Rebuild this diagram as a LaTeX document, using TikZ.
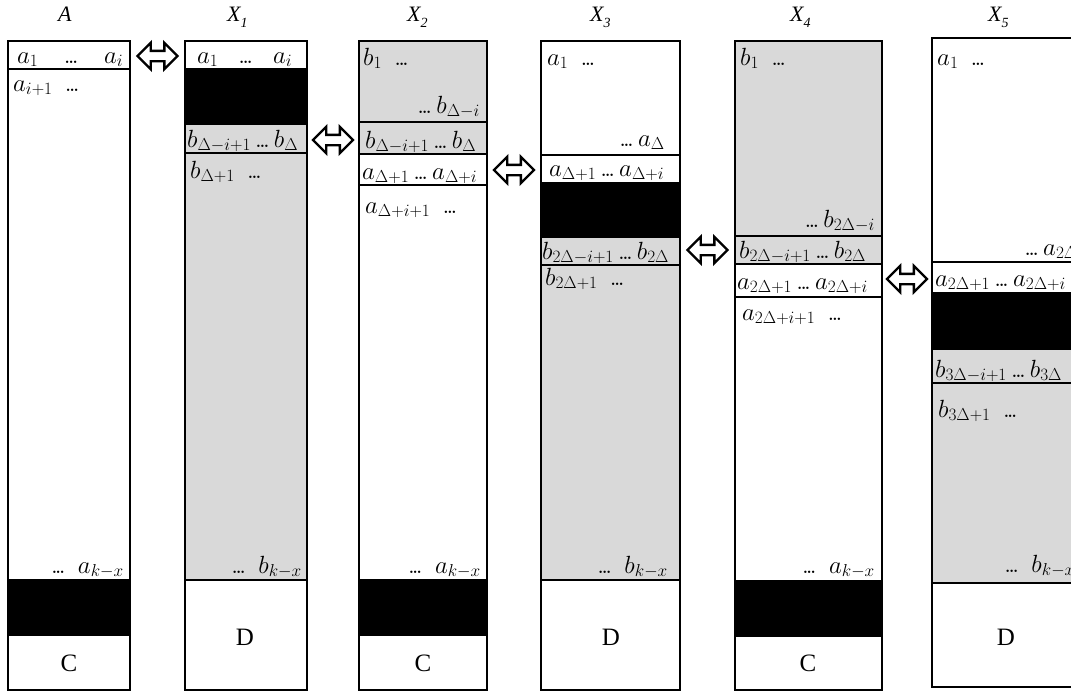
\documentclass[tikz,border=0pt]{standalone}
\usepackage{fontspec}
\newfontfamily\tnr{Liberation Serif}
\usetikzlibrary{shapes.arrows,calc}
\definecolor{cellgray}{RGB}{217,217,217}
\DeclareMathSizes{27}{27}{17.5}{12.5}
\newcommand{\hsub}[1]{\raisebox{-6pt}{\fontsize{14}{14}\selectfont #1}}
\newcommand{\dts}{\mathinner{\mathbf{.}\mkern-2mu\mathbf{.}\mkern-2mu\mathbf{.}}}
\tikzset{
  outer/.style={draw=black, line width=2.8pt},
  sepline/.style={draw=black, line width=2pt},
  grayreg/.style={fill=cellgray},
  blackreg/.style={fill=black},
  ml/.style={inner sep=0pt, anchor=base west, font=\fontsize{27}{32}\selectfont},
  mr/.style={inner sep=0pt, anchor=base east, font=\fontsize{27}{32}\selectfont},
  head/.style={inner sep=0pt, anchor=base west, font=\tnr\itshape\fontsize{22}{26}\selectfont},
  big/.style={inner sep=0pt, font=\tnr\fontsize{25}{30}\selectfont},
  xchg/.style={double arrow, draw=black, fill=white, line width=2.4pt, inner xsep=0pt, inner ysep=4pt, double arrow head extend=8pt, minimum height=40pt},
}
\begin{document}
\begin{tikzpicture}[x=1pt,y=-1pt]
\useasboundingbox (0,0) rectangle (1071,694);
\clip (0,0) rectangle (1071,694);
% headings
\node[head] (hA) at (58,21) {A};
\node[head] (h1) at (227,21) {X\hsub{1}};
\node[head] (h2) at (407,21) {X\hsub{2}};
\node[head] (h3) at (590,21) {X\hsub{3}};
\node[head] (h4) at (790,21) {X\hsub{4}};
\node[head] (h5) at (988,21) {X\hsub{5}};

% ---------- A ----------
\fill[white] (8,41) rectangle (130,690);
\fill[blackreg] (8,579) rectangle (130,636);
\draw[sepline] (8,69) -- (130,69);
\draw[outer] (8,41) rectangle (130,690);
\coordinate (A-r) at (130,56);
\node[ml] (tA1) at (17,63) {\makebox[106pt]{$a_1$\hfill$\dts$\hfill$a_i$}};
\node[ml] (tA2) at (13,91) {$a_{i+1}\ \dts$};
\node[mr] (tA3) at (124,573) {$\dts\ a_{k-x}$};
\node[big] (tA4) at (69,663) {C};

% ---------- X1 ----------
\fill[white] (185,41) rectangle (307,690);
\fill[blackreg] (185,69) rectangle (307,125);
\fill[grayreg] (185,125) rectangle (307,580);
\draw[sepline] (185,69) -- (307,69);
\draw[sepline] (185,153) -- (307,153);
\draw[sepline] (185,580) -- (307,580);
\draw[outer] (185,41) rectangle (307,690);
\coordinate (X1-l) at (185,56);
\coordinate (X1-r) at (307,140);
\node[ml] (t11) at (197,63) {\makebox[95pt]{$a_1$\hfill$\dts$\hfill$a_i$}};
\node[ml] (t12) at (187,147) {$b_{\Delta-i+1}\dts b_{\Delta}$};
\node[ml] (t13) at (190,178) {$b_{\Delta+1}\ \dts$};
\node[mr] (t14) at (302,573) {$\dts\ b_{k-x}$};
\node[big] (t15) at (245,637) {D};

% ---------- X2 ----------
\fill[white] (359,41) rectangle (487,690);
\fill[grayreg] (359,41) rectangle (487,154);
\fill[blackreg] (359,579) rectangle (487,636);
\draw[sepline] (359,122) -- (487,122);
\draw[sepline] (359,154) -- (487,154);
\draw[sepline] (359,185) -- (487,185);
\draw[outer] (359,41) rectangle (487,690);
\coordinate (X2-l) at (359,140);
\coordinate (X2-r) at (487,170);
\node[ml] (t21) at (363,65) {$b_1\ \dts$};
\node[mr] (t22) at (480,113) {$\dts b_{\Delta-i}$};
\node[ml] (t23) at (365,148) {$b_{\Delta-i+1}\dts b_{\Delta}$};
\node[ml] (t24) at (362,179) {$a_{\Delta+1}\dts a_{\Delta+i}$};
\node[ml] (t25) at (365,213) {$a_{\Delta+i+1}\ \dts$};
\node[mr] (t26) at (481,573) {$\dts\ a_{k-x}$};
\node[big] (t27) at (423,663) {C};

% ---------- X3 ----------
\fill[white] (541,41) rectangle (680,690);
\fill[blackreg] (541,182) rectangle (680,238);
\fill[grayreg] (541,238) rectangle (680,580);
\draw[sepline] (541,155) -- (680,155);
\draw[sepline] (541,265) -- (680,265);
\draw[sepline] (541,580) -- (680,580);
\draw[outer] (541,41) rectangle (680,690);
\coordinate (X3-l) at (541,170);
\coordinate (X3-r) at (680,250);
\node[ml] (t31) at (547,65) {$a_1\ \dts$};
\node[mr] (t32) at (665,146) {$\dts a_{\Delta}$};
\node[ml] (t33) at (549,176) {$a_{\Delta+1}\dts a_{\Delta+i}$};
\node[ml] (t34) at (542,259) {$b_{2\Delta-i+1}\dts b_{2\Delta}$};
\node[ml] (t35) at (545,285) {$b_{2\Delta+1}\ \dts$};
\node[mr] (t36) at (668,573) {$\dts\ b_{k-x}$};
\node[big] (t37) at (611,637) {D};

% ---------- X4 ----------
\fill[white] (735,41) rectangle (882,690);
\fill[grayreg] (735,41) rectangle (882,264);
\fill[blackreg] (735,580) rectangle (882,637);
\draw[sepline] (735,236) -- (882,236);
\draw[sepline] (735,264) -- (882,264);
\draw[sepline] (735,297) -- (882,297);
\draw[outer] (735,41) rectangle (882,690);
\coordinate (X4-l) at (735,250);
\coordinate (X4-r) at (882,279);
\node[ml] (t41) at (740,65) {$b_1\ \dts$};
\node[mr] (t42) at (875,227) {$\dts b_{2\Delta-i}$};
\node[ml] (t43) at (739,258) {$b_{2\Delta-i+1}\dts b_{2\Delta}$};
\node[ml] (t44) at (737,289) {$a_{2\Delta+1}\dts a_{2\Delta+i}$};
\node[ml] (t45) at (742,320) {$a_{2\Delta+i+1}\ \dts$};
\node[mr] (t46) at (875,573) {$\dts\ a_{k-x}$};
\node[big] (t47) at (808,663) {C};

% ---------- X5 ----------
\fill[white] (932,38) rectangle (1082,687);
\fill[blackreg] (932,292) rectangle (1082,350);
\fill[grayreg] (932,350) rectangle (1082,583);
\draw[sepline] (932,262) -- (1082,262);
\draw[sepline] (932,383) -- (1082,383);
\draw[sepline] (932,583) -- (1082,583);
\draw[outer] (932,38) rectangle (1082,687);
\coordinate (X5-l) at (932,279);
\node[ml] (t51) at (937,65) {$a_1\ \dts$};
\node[mr] (t52) at (1078,255) {$\dts a_{2\Delta}$};
\node[ml] (t53) at (935,286) {$a_{2\Delta+1}\dts a_{2\Delta+i}$};
\node[ml] (t54) at (935,377) {$b_{3\Delta-i+1}\dts b_{3\Delta}$};
\node[ml] (t55) at (938,417) {$b_{3\Delta+1}\ \dts$};
\node[mr] (t56) at (1075,572) {$\dts\ b_{k-x}$};
\node[big] (t57) at (1006,637) {D};

% ---------- exchange arrows ----------
\node[xchg] (s1) at ($(A-r)!0.5!(X1-l)$) {};
\node[xchg] (s2) at ($(X1-r)!0.5!(X2-l)$) {};
\node[xchg] (s3) at ($(X2-r)!0.5!(X3-l)$) {};
\node[xchg] (s4) at ($(X3-r)!0.5!(X4-l)$) {};
\node[xchg] (s5) at ($(X4-r)!0.5!(X5-l)$) {};
\end{tikzpicture}
\end{document}
